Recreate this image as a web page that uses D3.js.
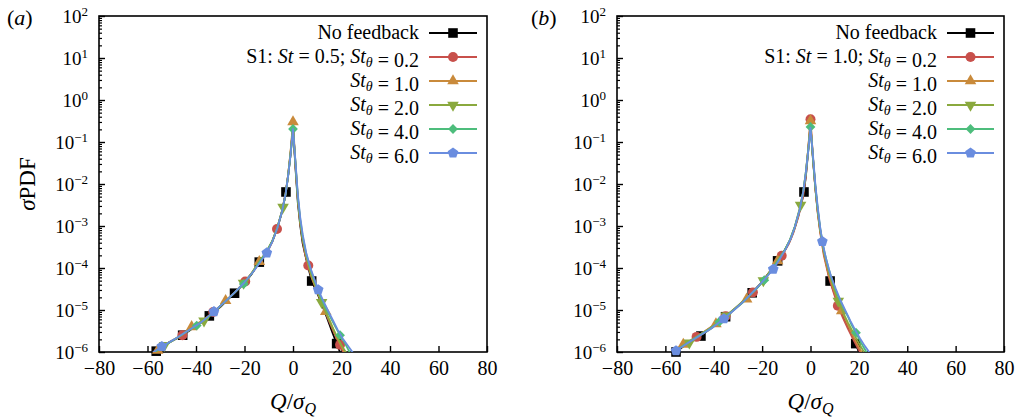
<!DOCTYPE html>
<html>
<head>
<meta charset="utf-8">
<script src="https://cdn.jsdelivr.net/npm/d3@7"></script>
<style>
  body { margin: 0; background: #fff; }
  svg text { font-family: "Liberation Serif", "Times New Roman", Times, serif; fill: #000; white-space: pre; }
</style>
</head>
<body>
<svg id="fig" width="1024" height="419"></svg>
<script>
// ---------- data ----------
const xTickValues = [-80, -60, -40, -20, 0, 20, 40, 60, 80];
const yDecades = [-6, -5, -4, -3, -2, -1, 0, 1, 2];
const panelTags = ["a", "b"];
const stValues = ["0.5", "1.0"];
const stThetaValues = ["0.2", "1.0", "2.0", "4.0", "6.0"];
const firstLegend = "No feedback";

// Each curve: [Q/sigma_Q, log10(sigma PDF)]
// Panel (a), St = 0.5
const noFeedbackA = [[-59,-6.1],[-56.4,-5.98],[-52,-5.8],[-48,-5.68],[-45.5,-5.6],[-41,-5.42],[-37,-5.26],[-34.5,-5.14],[-30,-4.93],[-27,-4.76],[-24.1,-4.6],[-20,-4.36],[-17,-4.14],[-13.9,-3.86],[-11,-3.64],[-8.5,-3.36],[-6.5,-3.06],[-4.5,-2.66],[-2.9,-2.19],[-2,-1.8],[-1,-1.3],[0,-0.64],[1,-1.6],[2,-2.45],[3,-3.0],[4,-3.42],[5.5,-3.8],[7.7,-4.31],[10,-4.6],[12,-4.88],[14,-5.18],[16,-5.5],[18,-5.8],[19.5,-6.02],[20.5,-6.15]];
const st02A = [[-59,-6.1],[-55,-5.92],[-50,-5.74],[-45.6,-5.6],[-41,-5.4],[-37,-5.25],[-32.9,-5.05],[-28,-4.8],[-24,-4.58],[-19.7,-4.32],[-16,-4.05],[-13,-3.8],[-10,-3.55],[-8.5,-3.37],[-6.6,-3.07],[-4.5,-2.64],[-3,-2.2],[-2,-1.78],[-1,-1.25],[0,-0.6],[1,-1.55],[2,-2.38],[3,-2.95],[4,-3.35],[5,-3.68],[6.3,-3.94],[8,-4.27],[10,-4.55],[12,-4.85],[14,-5.15],[16,-5.42],[18,-5.68],[19.4,-5.83],[21,-6.04],[22,-6.15]];
const st10A = [[-59,-6.1],[-55.8,-5.96],[-51,-5.76],[-46,-5.6],[-41.8,-5.4],[-37,-5.24],[-32,-5.02],[-27.8,-4.78],[-24,-4.58],[-20,-4.35],[-17,-4.12],[-13.9,-3.85],[-11,-3.62],[-8.5,-3.36],[-6.5,-3.05],[-4.5,-2.64],[-3,-2.22],[-2,-1.78],[-1,-1.22],[0,-0.52],[1,-1.5],[2,-2.35],[3,-2.92],[4,-3.32],[5.5,-3.75],[7.5,-4.2],[9.5,-4.5],[11.5,-4.78],[13.5,-5.04],[15.5,-5.3],[17.5,-5.58],[19.5,-5.82],[21.5,-6.04],[22.5,-6.14]];
const st20A = [[-59,-6.1],[-53,-5.84],[-48,-5.68],[-43,-5.48],[-36.7,-5.26],[-32,-5.03],[-28,-4.8],[-24,-4.58],[-20.4,-4.36],[-17,-4.12],[-14,-3.86],[-11,-3.62],[-8.5,-3.35],[-6.5,-3.04],[-4.1,-2.55],[-3,-2.22],[-2,-1.78],[-1,-1.25],[0,-0.66],[1,-1.5],[2,-2.35],[3,-2.9],[4,-3.3],[5.5,-3.72],[7.5,-4.15],[9.5,-4.46],[11.8,-4.82],[14,-5.12],[16,-5.38],[18,-5.62],[20,-5.84],[22.3,-6.05],[23.3,-6.14]];
const st40A = [[-59,-6.08],[-55,-5.92],[-50,-5.74],[-45,-5.56],[-39.7,-5.37],[-35,-5.17],[-30,-4.9],[-25,-4.64],[-20.3,-4.38],[-17,-4.13],[-14,-3.87],[-11,-3.63],[-8.5,-3.36],[-6.5,-3.05],[-4.5,-2.65],[-3,-2.22],[-2,-1.8],[-1,-1.3],[0,-0.69],[1,-1.48],[2,-2.3],[3,-2.85],[4,-3.25],[5.5,-3.68],[7.5,-4.08],[9.5,-4.4],[11.5,-4.7],[13.5,-4.96],[15.5,-5.18],[17.5,-5.4],[19.4,-5.6],[21.5,-5.8],[23.5,-6.02],[24.5,-6.12]];
const st60A = [[-59,-6.08],[-57.5,-6.0],[-54.1,-5.87],[-49,-5.7],[-44,-5.52],[-38,-5.3],[-32.6,-5.04],[-28,-4.8],[-24,-4.58],[-20,-4.34],[-16,-4.06],[-13,-3.82],[-10.8,-3.64],[-8.5,-3.37],[-6.5,-3.06],[-4.5,-2.65],[-3,-2.22],[-2,-1.8],[-1,-1.3],[0,-0.69],[1,-1.45],[2,-2.25],[3,-2.8],[4,-3.2],[5.5,-3.65],[7.5,-4.05],[10.4,-4.52],[12.5,-4.78],[14.5,-5.02],[16.5,-5.25],[18.5,-5.48],[20.5,-5.68],[22.5,-5.84],[25,-6.04],[26,-6.12]];
// Q values carrying a marker, one list per curve of panel (a)
const marksA = [
  [-56.4,-45.5,-34.5,-24.1,-13.9,-2.9,7.7,18],
  [-45.6,-32.9,-19.7,-6.6,6.3,19.4],
  [-55.8,-41.8,-27.8,-13.9,0,13.5],
  [-53,-36.7,-20.4,-4.1,11.8],
  [-39.7,-20.3,0,19.4],
  [-54.1,-32.6,-10.8,10.4]
];

// Panel (b), St = 1.0
const noFeedbackB = [[-59,-6.12],[-55.6,-6.0],[-51,-5.8],[-48,-5.7],[-45.3,-5.62],[-41,-5.42],[-38,-5.3],[-35.1,-5.16],[-31,-4.96],[-27.5,-4.78],[-24.1,-4.59],[-20,-4.33],[-17,-4.1],[-13.6,-3.83],[-11,-3.62],[-8.5,-3.35],[-6.5,-3.04],[-4.5,-2.64],[-2.7,-2.19],[-1.8,-1.75],[-1,-1.25],[0,-0.6],[1,-1.4],[2,-2.1],[3,-2.65],[4,-3.1],[5.5,-3.62],[8.1,-4.31],[10,-4.62],[12,-4.95],[14,-5.22],[16.5,-5.5],[18.7,-5.8],[20.2,-6.04],[21,-6.14]];
const st02B = [[-59,-6.1],[-55,-5.92],[-51,-5.78],[-47.1,-5.64],[-43,-5.48],[-39,-5.32],[-35.1,-5.15],[-31,-4.95],[-27,-4.76],[-23.8,-4.58],[-20,-4.33],[-17,-4.1],[-14,-3.86],[-11.9,-3.71],[-9,-3.43],[-7,-3.15],[-5,-2.78],[-3,-2.28],[-2,-1.85],[-1,-1.2],[0,-0.46],[1,-1.35],[2,-2.1],[3,-2.7],[4,-3.15],[5.5,-3.7],[7.5,-4.2],[9.5,-4.58],[11.3,-4.9],[13.5,-5.2],[15.5,-5.45],[17.5,-5.68],[19.5,-5.9],[21,-6.05],[22,-6.15]];
const st10B = [[-59,-6.1],[-56,-5.96],[-52.6,-5.82],[-48,-5.67],[-44,-5.52],[-39.1,-5.33],[-35,-5.15],[-31,-4.96],[-26.4,-4.74],[-22,-4.46],[-18,-4.2],[-13.6,-3.83],[-11,-3.62],[-8.5,-3.35],[-6.5,-3.04],[-4.5,-2.63],[-3,-2.2],[-2,-1.78],[-1,-1.2],[0,-0.5],[1,-1.36],[2,-2.1],[3,-2.68],[4,-3.12],[5.5,-3.65],[7.5,-4.15],[9.5,-4.5],[11,-4.75],[12.9,-5.02],[15,-5.3],[17,-5.55],[19,-5.78],[21.5,-6.04],[22.5,-6.14]];
const st20B = [[-59,-6.1],[-55,-5.94],[-50.1,-5.78],[-46,-5.62],[-41,-5.44],[-34.8,-5.14],[-30,-4.9],[-25,-4.64],[-19.5,-4.3],[-16,-4.02],[-13,-3.78],[-10.5,-3.56],[-8.5,-3.33],[-6.5,-3.02],[-4.1,-2.5],[-3,-2.17],[-2,-1.75],[-1,-1.2],[0,-0.6],[1,-1.35],[2,-2.05],[3,-2.62],[4,-3.08],[5.5,-3.6],[7.5,-4.08],[9.5,-4.45],[11.5,-4.79],[13.5,-5.06],[15.5,-5.3],[17.5,-5.52],[19.5,-5.74],[21.5,-5.94],[22.5,-6.04],[23.5,-6.14]];
const st40B = [[-59,-6.1],[-56.5,-6.0],[-52,-5.82],[-47,-5.64],[-42,-5.46],[-37.7,-5.28],[-33,-5.06],[-28,-4.82],[-23,-4.54],[-19.1,-4.29],[-16,-4.04],[-13,-3.78],[-10.5,-3.56],[-8.5,-3.33],[-6.5,-3.02],[-4.5,-2.62],[-3,-2.18],[-2,-1.76],[-1,-1.25],[0,-0.64],[1,-1.35],[2,-2.05],[3,-2.6],[4,-3.05],[5.5,-3.56],[7.5,-4.02],[9.5,-4.38],[11.5,-4.68],[13.5,-4.94],[15.5,-5.16],[17,-5.36],[18.8,-5.54],[20.5,-5.74],[22.5,-5.94],[23.5,-6.04],[24.5,-6.14]];
const st60B = [[-59,-6.1],[-55.6,-5.97],[-51,-5.8],[-46,-5.62],[-41,-5.44],[-35.8,-5.21],[-31,-4.97],[-27,-4.76],[-23,-4.52],[-19,-4.27],[-15.4,-4.03],[-12.5,-3.77],[-10,-3.52],[-8,-3.28],[-6.5,-3.03],[-4.5,-2.62],[-3,-2.18],[-2,-1.76],[-1,-1.25],[0,-0.66],[1,-1.3],[2,-2.0],[3,-2.55],[4,-3.02],[4.9,-3.37],[6.5,-3.8],[8.5,-4.2],[10.5,-4.5],[12.5,-4.78],[14.5,-5.02],[16.5,-5.26],[18.5,-5.48],[20.5,-5.68],[22.5,-5.86],[25,-6.06],[26,-6.14]];
const marksB = [
  [-55.6,-45.3,-35.1,-24.1,-13.6,-2.7,8.1,18.7],
  [-47.1,-35.1,-23.8,-11.9,0,11.3],
  [-52.6,-39.1,-26.4,-13.6,0,12.9],
  [-50.1,-34.8,-19.5,-4.1,11.5],
  [-37.7,-19.1,0,18.8],
  [-55.6,-35.8,-15.4,4.9]
];

// ---------- styling ----------
const SERIF = '"Liberation Serif", "Times New Roman", Times, serif';
const colors = ["#000000", "#c8504b", "#c98a3b", "#8aa93e", "#4dbd7c", "#6a8ddf"];
const shapes = ["square", "circle", "triUp", "triDown", "diamond", "pentagon"];

const plotTop = 16, plotBottom = 352;
const panels = [
  { tag: panelTags[0], st: stValues[0], left: 99, right: 487, labelX: 7,
    legendText: 419, legendL0: 429, legendL1: 477,
    curves: [noFeedbackA, st02A, st10A, st20A, st40A, st60A], marks: marksA },
  { tag: panelTags[1], st: stValues[1], left: 617, right: 1004, labelX: 531,
    legendText: 937, legendL0: 947, legendL1: 994,
    curves: [noFeedbackB, st02B, st10B, st20B, st40B, st60B], marks: marksB }
];

function pentagonPath(r) {
  const p = d3.path();
  for (let k = 0; k < 5; k++) {
    const a = -Math.PI / 2 + k * 2 * Math.PI / 5;
    const px = r * Math.cos(a), py = r * Math.sin(a);
    if (k === 0) p.moveTo(px, py); else p.lineTo(px, py);
  }
  p.closePath();
  return p.toString();
}
function markerPath(kind) {
  switch (kind) {
    case "square": return d3.symbol(d3.symbolSquare, 92)();
    case "circle": return d3.symbol(d3.symbolCircle, 78)();
    case "triUp":
    case "triDown": return d3.symbol(d3.symbolTriangle, 58)();
    case "diamond": return d3.symbol(d3.symbolSquare, 48)();
    default: return pentagonPath(5.6);
  }
}
function markerRotate(kind) {
  return kind === "triDown" ? 180 : kind === "diamond" ? 45 : 0;
}

const svg = d3.select("#fig").attr("font-family", SERIF);
const defs = svg.append("defs");

function addSub(textSel, base, sub) {
  textSel.append("tspan").attr("font-style", "italic").text(base);
  textSel.append("tspan").attr("font-size", 14).attr("dy", 4)
    .attr("font-style", "italic").text(sub);
  textSel.append("tspan").attr("dy", -4).text("");
}

panels.forEach(p => {
  const x = d3.scaleLinear().domain([-80, 80]).range([p.left, p.right]);
  const y = d3.scaleLog().domain([1e-6, 1e2]).range([plotBottom, plotTop]);
  const g = svg.append("g").attr("font-family", SERIF);

  defs.append("clipPath").attr("id", "clip-" + p.tag)
    .append("rect").attr("x", p.left).attr("y", plotTop)
    .attr("width", p.right - p.left).attr("height", plotBottom - plotTop);

  // bottom axis, ticks pointing inward
  const xAxis = g.append("g").attr("transform", `translate(0,${plotBottom})`)
    .call(d3.axisBottom(x).tickValues(xTickValues).tickSizeInner(-6).tickSizeOuter(0));
  xAxis.attr("font-family", SERIF).attr("font-size", 20);
  xAxis.select(".domain").remove();
  xAxis.selectAll(".tick line").attr("stroke-width", 1.4);
  xAxis.selectAll(".tick text").attr("y", 23).attr("dy", 0)
    .attr("font-size", 20).attr("font-family", SERIF);

  // left axis: decade ticks plus minor ticks at 2..9
  const majors = yDecades.map(e => Math.pow(10, e));
  const minors = [];
  yDecades.slice(0, -1).forEach(e => { for (let k = 2; k <= 9; k++) minors.push(k * Math.pow(10, e)); });
  const yAxis = g.append("g").attr("transform", `translate(${p.left},0)`)
    .call(d3.axisLeft(y).tickValues(majors).tickSizeInner(-6).tickSizeOuter(0).tickFormat(""));
  yAxis.select(".domain").remove();
  yAxis.selectAll(".tick line").attr("stroke-width", 1.4);
  const yMinor = g.append("g").attr("transform", `translate(${p.left},0)`)
    .call(d3.axisLeft(y).tickValues(minors).tickSizeInner(-3).tickSizeOuter(0).tickFormat(""));
  yMinor.select(".domain").remove();
  yMinor.selectAll(".tick line").attr("stroke-width", 1.2);

  // decade labels 10^n
  g.selectAll(".ylab").data(yDecades).join("text")
    .attr("class", "ylab")
    .attr("x", p.left - 11)
    .attr("y", d => y(Math.pow(10, d)) + 7)
    .attr("text-anchor", "end")
    .attr("font-size", 19)
    .attr("font-family", SERIF)
    .each(function (d) {
      const t = d3.select(this);
      t.append("tspan").text("10");
      t.append("tspan").attr("font-size", 13).attr("dy", -7)
        .text(d < 0 ? "\u2212" + (-d) : String(d));
    });

  // frame
  g.append("rect").attr("x", p.left).attr("y", plotTop)
    .attr("width", p.right - p.left).attr("height", plotBottom - plotTop)
    .attr("fill", "none").attr("stroke", "#000").attr("stroke-width", 1.6);

  // curves with their markers
  const line = d3.line().x(d => x(d[0])).y(d => y(Math.pow(10, d[1])));
  p.curves.forEach((c, i) => {
    g.append("path").datum(c)
      .attr("clip-path", `url(#clip-${p.tag})`)
      .attr("d", line)
      .attr("fill", "none").attr("stroke", colors[i]).attr("stroke-width", 1.8)
      .attr("stroke-linejoin", "round");
    const pts = c.filter(d => p.marks[i].includes(d[0]) && d[1] >= -6);
    g.selectAll(null).data(pts).join("path")
      .attr("d", markerPath(shapes[i]))
      .attr("transform", d => `translate(${x(d[0])},${y(Math.pow(10, d[1]))}) rotate(${markerRotate(shapes[i])})`)
      .attr("fill", colors[i]);
  });

  // legend
  const rowY = r => 33 + 24 * r;
  for (let r = 0; r < 6; r++) {
    const yy = rowY(r);
    g.append("line").attr("x1", p.legendL0).attr("x2", p.legendL1)
      .attr("y1", yy).attr("y2", yy)
      .attr("stroke", colors[r]).attr("stroke-width", 1.8);
    g.append("path").attr("d", markerPath(shapes[r]))
      .attr("transform", `translate(${(p.legendL0 + p.legendL1) / 2},${yy}) rotate(${markerRotate(shapes[r])})`)
      .attr("fill", colors[r]);
    const t = g.append("text").attr("x", p.legendText).attr("y", yy + 6)
      .attr("text-anchor", "end").attr("font-size", 20).attr("font-family", SERIF);
    if (r === 0) {
      t.text(firstLegend);
    } else if (r === 1) {
      t.append("tspan").text("S1: ");
      t.append("tspan").attr("font-style", "italic").text("St");
      t.append("tspan").text(" = " + p.st + "; ");
      addSub(t, "St", "\u03b8");
      t.append("tspan").text(" = " + stThetaValues[0]);
    } else {
      addSub(t, "St", "\u03b8");
      t.append("tspan").text(" = " + stThetaValues[r - 1]);
    }
  }

  // axis titles
  const xt = g.append("text").attr("x", (p.left + p.right) / 2).attr("y", 409)
    .attr("text-anchor", "middle").attr("font-size", 23).attr("font-family", SERIF);
  xt.append("tspan").attr("font-style", "italic").text("Q");
  xt.append("tspan").text("/");
  xt.append("tspan").attr("font-style", "italic").text("\u03c3");
  xt.append("tspan").attr("font-style", "italic").attr("font-size", 16).attr("dy", 5).text("Q");

  // panel letter
  const pl = g.append("text").attr("x", p.labelX).attr("y", 25).attr("font-size", 22).attr("font-family", SERIF);
  pl.append("tspan").text("(");
  pl.append("tspan").attr("font-style", "italic").text(p.tag);
  pl.append("tspan").text(")");
});

// vertical title on the left panel
const yt = svg.append("text")
  .attr("transform", `translate(35,${(plotTop + plotBottom) / 2}) rotate(-90)`)
  .attr("text-anchor", "middle").attr("font-size", 23).attr("font-family", SERIF);
yt.append("tspan").attr("font-style", "italic").text("\u03c3");
yt.append("tspan").text("PDF");
</script>
</body>
</html>
